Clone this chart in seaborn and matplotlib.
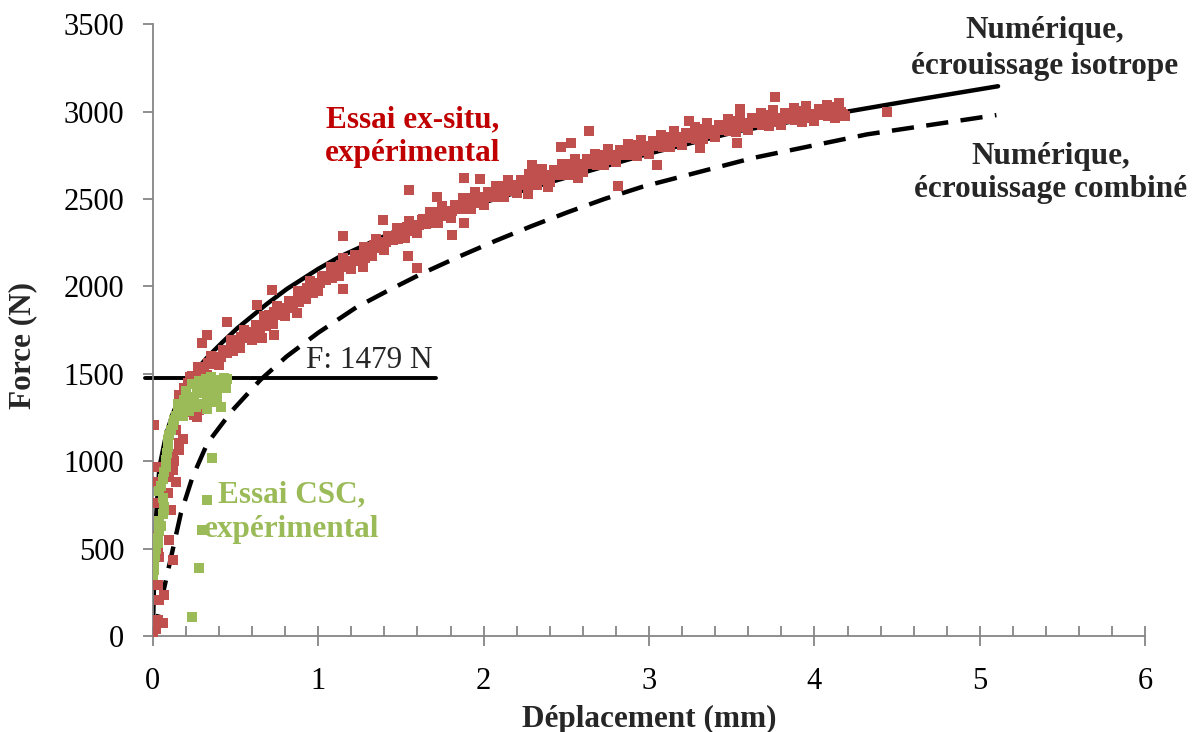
import matplotlib
matplotlib.use("Agg")
import matplotlib.pyplot as plt
import seaborn as sns
import pandas as pd
from matplotlib.ticker import MultipleLocator

# Numerical curves
iso_x = [0, 0.005, 0.01, 0.02, 0.04, 0.08, 0.12, 0.16, 0.21, 0.27, 0.33, 0.42, 0.51,
         0.69, 0.81, 1.0, 1.13, 1.5, 2.0, 2.38, 3.0, 3.55, 4.2, 4.6, 5.11]
iso_y = [0, 200, 395, 680, 966, 1150, 1270, 1360, 1450, 1530, 1595, 1680, 1760,
         1900, 1985, 2100, 2170, 2330, 2480, 2590, 2760, 2890, 3000, 3065, 3145]

comb_x = [0.01, 0.03, 0.07, 0.12, 0.17, 0.24, 0.33, 0.48, 0.65, 0.81, 1.0, 1.23, 1.42,
          1.63, 1.85, 2.07, 2.29, 2.51, 2.73, 2.96, 3.63, 4.32, 5.10]
comb_y = [0, 109, 280, 492, 703, 909, 1103, 1290, 1465, 1600, 1735, 1880, 1975,
          2075, 2170, 2260, 2345, 2425, 2500, 2570, 2735, 2870, 2980]

# Threshold force
force_seuil = 1479
seuil_x = [-0.05, 1.71]

# Ex-situ test points: main band
red_band_x = [
    0.20, 0.225, 0.25, 0.275, 0.30, 0.325, 0.35, 0.375,
    0.40, 0.425, 0.45, 0.475, 0.50, 0.525, 0.55, 0.575,
    0.60, 0.625, 0.65, 0.675, 0.70, 0.725, 0.75, 0.775,
    0.80, 0.825, 0.85, 0.875, 0.90, 0.925, 0.95, 0.975,
    1.00, 1.025, 1.05, 1.075, 1.10, 1.125, 1.15, 1.175,
    1.20, 1.225, 1.25, 1.275, 1.30, 1.325, 1.35, 1.375,
    1.40, 1.425, 1.45, 1.475, 1.50, 1.525, 1.55, 1.575,
    1.60, 1.625, 1.65, 1.675, 1.70, 1.725, 1.75, 1.775,
    1.80, 1.825, 1.85, 1.875, 1.90, 1.925, 1.95, 1.975,
    2.00, 2.025, 2.05, 2.075, 2.10, 2.125, 2.15, 2.175,
    2.20, 2.225, 2.25, 2.275, 2.30, 2.325, 2.35, 2.375,
    2.40, 2.425, 2.45, 2.475, 2.50, 2.525, 2.55, 2.575,
    2.60, 2.625, 2.65, 2.675, 2.70, 2.725, 2.75, 2.775,
    2.80, 2.825, 2.85, 2.875, 2.90, 2.925, 2.95, 2.975,
    3.00, 3.025, 3.05, 3.075, 3.10, 3.125, 3.15, 3.175,
    3.20, 3.225, 3.25, 3.275, 3.30, 3.325, 3.35, 3.375,
    3.40, 3.425, 3.45, 3.475, 3.50, 3.525, 3.55, 3.575,
    3.60, 3.625, 3.65, 3.675, 3.70, 3.725, 3.75, 3.775,
    3.80, 3.825, 3.85, 3.875, 3.90, 3.925, 3.95, 3.975,
    4.00, 4.025, 4.05, 4.075, 4.10, 4.125, 4.15, 4.175,
]
red_band_y = [
    1400, 1483, 1465, 1538, 1540, 1495, 1600, 1555,
    1550, 1634, 1618, 1691, 1695, 1648, 1750, 1703,
    1695, 1778, 1760, 1833, 1835, 1786, 1888, 1839,
    1830, 1914, 1898, 1971, 1975, 1928, 2030, 1983,
    1975, 2056, 2038, 2109, 2110, 2060, 2160, 2110,
    2100, 2179, 2158, 2226, 2225, 2174, 2273, 2221,
    2210, 2288, 2265, 2333, 2330, 2276, 2373, 2319,
    2305, 2381, 2358, 2424, 2420, 2365, 2460, 2405,
    2390, 2465, 2440, 2505, 2500, 2444, 2538, 2481,
    2465, 2539, 2513, 2576, 2570, 2514, 2608, 2551,
    2535, 2608, 2580, 2643, 2635, 2578, 2670, 2613,
    2595, 2668, 2640, 2703, 2695, 2638, 2730, 2673,
    2655, 2726, 2698, 2759, 2750, 2693, 2785, 2728,
    2710, 2781, 2753, 2814, 2805, 2746, 2838, 2779,
    2760, 2831, 2803, 2864, 2855, 2796, 2888, 2829,
    2810, 2880, 2850, 2910, 2900, 2841, 2933, 2874,
    2855, 2925, 2895, 2955, 2945, 2885, 2975, 2915,
    2895, 2964, 2933, 2991, 2980, 2919, 3008, 2946,
    2925, 2993, 2960, 3018, 3005, 2943, 3030, 2968,
    2945, 3013, 2980, 3038, 3025, 2961, 3048, 2984,
]

# Ex-situ test points: centre of the band
red_mid_x = [
    0.21, 0.26, 0.31, 0.36, 0.41, 0.46, 0.51, 0.56, 0.61, 0.66,
    0.71, 0.76, 0.81, 0.86, 0.91, 0.96, 1.01, 1.06, 1.11, 1.16,
    1.21, 1.26, 1.31, 1.36, 1.41, 1.46, 1.51, 1.56, 1.61, 1.66,
    1.71, 1.76, 1.81, 1.86, 1.91, 1.96, 2.01, 2.06, 2.11, 2.16,
    2.21, 2.26, 2.31, 2.36, 2.41, 2.46, 2.51, 2.56, 2.61, 2.66,
    2.71, 2.76, 2.81, 2.86, 2.91, 2.96, 3.01, 3.06, 3.11, 3.16,
    3.21, 3.26, 3.31, 3.36, 3.41, 3.46, 3.51, 3.56, 3.61, 3.66,
    3.71, 3.76, 3.81, 3.86, 3.91, 3.96, 4.01, 4.06, 4.11, 4.16,
]
red_mid_y = [
    1447, 1482, 1518, 1558, 1598, 1635, 1672, 1707, 1742, 1777,
    1812, 1845, 1878, 1915, 1952, 1987, 2022, 2054, 2086, 2116,
    2146, 2173, 2201, 2228, 2255, 2280, 2305, 2327, 2350, 2372,
    2394, 2414, 2434, 2454, 2474, 2491, 2509, 2526, 2544, 2561,
    2578, 2593, 2608, 2623, 2638, 2653, 2668, 2683, 2698, 2710,
    2723, 2738, 2753, 2765, 2778, 2790, 2803, 2815, 2828, 2840,
    2852, 2862, 2872, 2885, 2897, 2907, 2917, 2927, 2937, 2944,
    2952, 2959, 2966, 2971, 2976, 2981, 2986, 2991, 2996, 2998,
]

red_mid2_x = [
    0.235, 0.285, 0.335, 0.385, 0.435, 0.485, 0.535, 0.585, 0.635, 0.685,
    0.735, 0.785, 0.835, 0.885, 0.935, 0.985, 1.035, 1.085, 1.135, 1.185,
    1.235, 1.285, 1.335, 1.385, 1.435, 1.485, 1.535, 1.585, 1.635, 1.685,
    1.735, 1.785, 1.835, 1.885, 1.935, 1.985, 2.035, 2.085, 2.135, 2.185,
    2.235, 2.285, 2.335, 2.385, 2.435, 2.485, 2.535, 2.585, 2.635, 2.685,
    2.735, 2.785, 2.835, 2.885, 2.935, 2.985, 3.035, 3.085, 3.135, 3.185,
    3.235, 3.285, 3.335, 3.385, 3.435, 3.485, 3.535, 3.585, 3.635, 3.685,
    3.735, 3.785, 3.835, 3.885, 3.935, 3.985, 4.035, 4.085, 4.135, 4.185,
]
red_mid2_y = [
    1487, 1478, 1560, 1556, 1639, 1632, 1712, 1703, 1782, 1773,
    1851, 1840, 1919, 1912, 1992, 1983, 2060, 2048, 2123, 2109,
    2182, 2165, 2237, 2220, 2290, 2271, 2338, 2317, 2383, 2361,
    2426, 2402, 2466, 2442, 2505, 2478, 2540, 2513, 2575, 2548,
    2608, 2579, 2638, 2609, 2668, 2639, 2698, 2669, 2726, 2695,
    2753, 2724, 2781, 2750, 2806, 2775, 2831, 2800, 2856, 2824,
    2879, 2845, 2901, 2869, 2924, 2890, 2944, 2910, 2963, 2926,
    2978, 2941, 2991, 2952, 3001, 2962, 3011, 2972, 3019, 2977,
]

# Ex-situ test points: start of the test
red_low_x = [0.00, 0.02, 0.03, 0.06, 0.04, 0.07, 0.03, 0.12, 0.04, 0.02,
             0.09, 0.02, 0.11, 0.14, 0.02, 0.02, 0.10, 0.12, 0.09, 0.10,
             0.16, 0.16, 0.14, 0.18, 0.01, 0.27, 0.24, 0.25, 0.28, 0.20,
             0.23, 0.16, 0.19, 0.12, 0.13, 0.07, 0.03, 0.11]
red_low_y = [0, 40, 90, 75, 205, 235, 290, 435, 450, 565,
             720, 760, 720, 880, 880, 966, 909, 949, 818, 549,
             1063, 1103, 1178, 1126, 1206, 1252, 1303, 1264, 1292, 1330,
             1280, 1380, 1420, 1040, 1000, 732, 509, 966]

# Ex-situ test points: scattered points
red_out_x = [0.33, 0.30, 0.45, 0.87, 0.63, 0.66, 0.73, 0.72, 0.97, 1.15,
             1.15, 1.27, 1.39, 1.54, 1.55, 1.60, 1.72, 1.81, 1.88, 1.88,
             1.98, 2.27, 2.29, 2.39, 2.47, 2.53, 2.57, 2.64, 2.81, 3.05,
             3.24, 3.31, 3.53, 3.55, 3.76, 4.44]
red_out_y = [1721, 1675, 1795, 1847, 1893, 1704, 1721, 1978, 1961, 2287,
             1984, 2110, 2378, 2172, 2550, 2104, 2510, 2293, 2361, 2619,
             2613, 2527, 2693, 2567, 2796, 2819, 2619, 2887, 2573, 2693,
             2944, 2790, 2819, 3013, 3082, 2996]

# CSC test points
green_x = [0.00, 0.01, 0.01, 0.015, 0.02, 0.03, 0.03, 0.04, 0.05, 0.04,
           0.06, 0.065, 0.07, 0.06, 0.04, 0.05, 0.06, 0.07, 0.08, 0.08,
           0.085, 0.09, 0.09, 0.10, 0.11, 0.12, 0.13, 0.14, 0.15, 0.16,
           0.18, 0.19, 0.20, 0.22, 0.22, 0.24, 0.25, 0.26, 0.27, 0.28,
           0.28, 0.30, 0.31, 0.32, 0.33, 0.34, 0.35, 0.36, 0.37, 0.38,
           0.39, 0.40, 0.41, 0.42, 0.43, 0.44, 0.45, 0.18, 0.15, 0.33,
           0.36, 0.33, 0.30, 0.28, 0.24]
green_y = [350, 380, 420, 460, 500, 530, 560, 600, 630, 660,
           700, 740, 720, 790, 830, 860, 900, 940, 970, 1010,
           1050, 1080, 1120, 1150, 1180, 1210, 1235, 1260, 1280, 1300,
           1320, 1350, 1400, 1340, 1290, 1440, 1370, 1310, 1420, 1390,
           1460, 1330, 1410, 1470, 1380, 1430, 1480, 1340, 1450, 1400,
           1360, 1465, 1310, 1450, 1475, 1420, 1470, 1260, 1330, 1300,
           1018, 778, 606, 389, 109]

red_df = pd.DataFrame({
    'dep': red_band_x + red_mid_x + red_mid2_x + red_low_x + red_out_x,
    'force': red_band_y + red_mid_y + red_mid2_y + red_low_y + red_out_y,
})
green_df = pd.DataFrame({'dep': green_x, 'force': green_y})

sns.set_theme(style="white")
plt.rcParams['font.family'] = ['Liberation Serif', 'DejaVu Serif']

fig = plt.figure(figsize=(12.03, 7.32), dpi=100)
ax = fig.add_axes([0.127, 0.131, 0.825, 0.836])

sns.lineplot(x=iso_x, y=iso_y, ax=ax, color='black', linewidth=3.2, estimator=None, sort=False)
sns.lineplot(x=comb_x, y=comb_y, ax=ax, color='black', linewidth=3.2, estimator=None, sort=False,
             linestyle=(0, (5, 2.8)))
ax.plot(seuil_x, [force_seuil, force_seuil], color='black', linewidth=2.8, clip_on=False)

sns.scatterplot(data=red_df, x='dep', y='force', ax=ax, marker='s', s=46, color='#C0504D',
                linewidth=0, zorder=3)
sns.scatterplot(data=green_df, x='dep', y='force', ax=ax, marker='s', s=46, color='#9BBB59',
                linewidth=0, zorder=4)

# Labels on the chart
fs = 22.5
ax.text(5.39, 3462, 'Numérique,', ha='center', va='center', fontsize=fs, fontweight='bold')
ax.text(5.39, 3255, 'écrouissage isotrope', ha='center', va='center', fontsize=fs, fontweight='bold')
ax.text(5.43, 2745, 'Numérique,', ha='center', va='center', fontsize=fs, fontweight='bold')
ax.text(5.43, 2555, 'écrouissage combiné', ha='center', va='center', fontsize=fs, fontweight='bold')
ax.text(1.57, 2955, 'Essai ex-situ,', ha='center', va='center', fontsize=fs, fontweight='bold',
        color='#C00000')
ax.text(1.57, 2760, 'expérimental', ha='center', va='center', fontsize=fs, fontweight='bold',
        color='#C00000')
ax.text(0.84, 805, 'Essai CSC,', ha='center', va='center', fontsize=fs, fontweight='bold',
        color='#9BBB59')
ax.text(0.84, 610, 'expérimental', ha='center', va='center', fontsize=fs, fontweight='bold',
        color='#9BBB59')
ax.text(1.31, 1575, 'F: 1479 N', ha='center', va='center', fontsize=fs)

ax.set_xlim(0, 6)
ax.set_ylim(0, 3500)
ax.set_xticks(range(0, 7))
ax.xaxis.set_minor_locator(MultipleLocator(0.2))
ax.set_yticks(range(0, 3501, 500))

grey = '#868686'
ax.tick_params(axis='both', which='both', bottom=True, left=True, color=grey, width=1.3,
               labelsize=22, labelcolor='black')
ax.tick_params(axis='x', which='major', direction='inout', length=14, pad=15.5)
ax.tick_params(axis='x', which='minor', direction='in', length=7)
ax.tick_params(axis='y', which='major', direction='out', length=7, pad=13.5)

sns.despine(ax=ax)
for side in ['left', 'bottom']:
    ax.spines[side].set_color(grey)
    ax.spines[side].set_linewidth(1.3)

ax.set_xlabel('Déplacement (mm)', fontsize=fs, fontweight='bold', labelpad=6)
ax.set_ylabel('Force (N)', fontsize=fs, fontweight='bold')
ax.yaxis.set_label_coords(-0.116, 0.475)

fig.savefig('out.png', dpi=100)
